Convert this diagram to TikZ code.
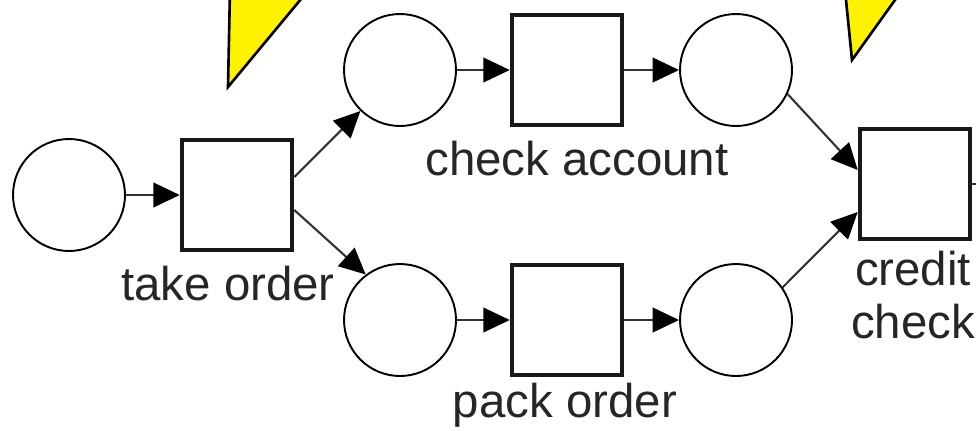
\documentclass[tikz,border=0pt]{standalone}
\usepackage{fontspec}
\setmainfont{Liberation Sans}
\usetikzlibrary{arrows.meta}
\begin{document}
\begin{tikzpicture}[x=0.02cm,y=-0.02cm,
  place/.style={circle,draw=black,line width=1.1pt,minimum size=2.24cm,inner sep=0pt},
  trans/.style={rectangle,draw=black!90,line width=2.6pt,minimum size=2.2cm,inner sep=0pt,fill=white},
  arc/.style={draw=black!80,line width=1.2pt,-{Triangle[length=15pt,width=14pt,color=black]}},
  lbl/.style={font=\fontsize{27}{30}\selectfont,text=black!85,inner sep=0pt},
  callout/.style={fill=yellow,draw=black,line width=1.5pt,line join=miter}]
\useasboundingbox (0,0) rectangle (976,430);
\clip (0,0) rectangle (976,430);
% callout tips
\draw[callout] (231,-60) -- (350,-60) -- (228,87) -- cycle;
\draw[callout] (840,-60) -- (938,-60) -- (852,60) -- cycle;
% places and transitions
\node[place] (p0) at (69,195) {};
\node[trans] (t1) at (237,195) {};
\node[place] (p1) at (400,70) {};
\node[trans] (t2) at (567,70) {};
\node[place] (p2) at (736,70) {};
\node[place] (p3) at (400,320) {};
\node[trans] (t3) at (567,320) {};
\node[place] (p4) at (736,320) {};
\node[trans] (t4) at (915,184) {};
\coordinate (out4) at (1030,184);
% labels
\node[lbl,anchor=base] (l1) at (228,300) {take order};
\node[lbl,anchor=base] (l2) at (577,175) {check account};
\node[lbl,anchor=base] (l3) at (565,417) {pack order};
\node[lbl,anchor=north,align=center] (l4) at (913,251) {credit\\check};
% arcs
\draw[arc] (p0) -- (t1);
\draw[arc] ([yshift=0.36cm]t1.east) -- (p1.226);
\draw[arc] ([yshift=-0.3cm]t1.east) -- (p3.127);
\draw[arc] (p1) -- (t2);
\draw[arc] (t2) -- (p2);
\draw[arc] (p3) -- (t3);
\draw[arc] (t3) -- (p4);
\draw[arc] (p2.-25) -- ([yshift=0.28cm]t4.west);
\draw[arc] (p4.35) -- ([yshift=-0.56cm]t4.west);
\draw[arc] (t4.east) -- (out4);
\end{tikzpicture}
\end{document}
